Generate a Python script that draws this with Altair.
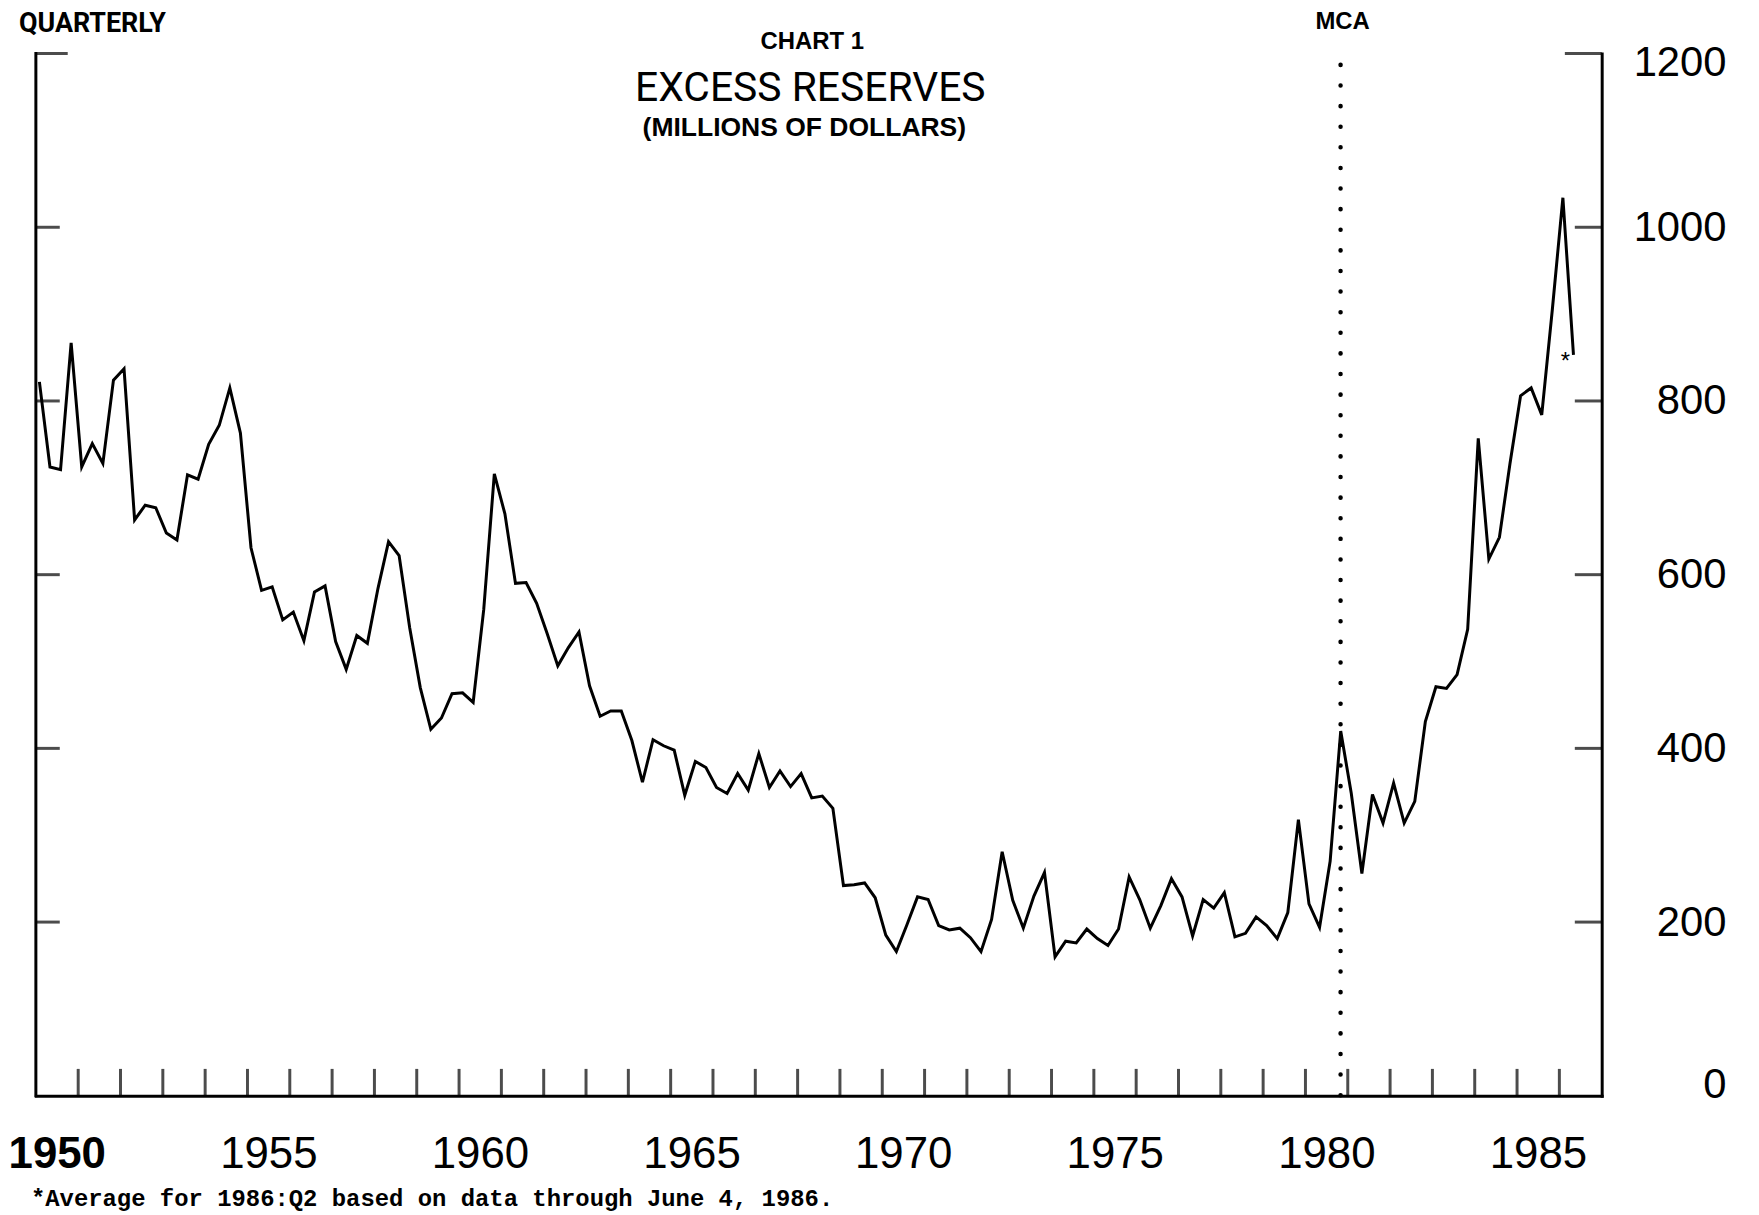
import altair as alt
import pandas as pd

# ---------------- data (quarterly, 1950:Q1 .. 1986:Q2) ----------------
first_year = 1950
excess_reserves = [
    822, 724, 721, 867, 724, 751, 728, 824, 837, 663,
    680, 677, 648, 640, 715, 710, 750, 772, 815, 763,
    631, 582, 586, 548, 557, 524, 580, 587, 523, 491,
    530, 521, 584, 638, 622, 539, 470, 422, 435, 463,
    464, 453, 560, 716, 670, 590, 591, 567, 532, 495,
    516, 534, 472, 437, 443, 443, 409, 361, 410, 403,
    398, 346, 385, 378, 355, 348, 371, 352, 394, 355,
    374, 356, 371, 343, 345, 331, 242, 243, 245, 228,
    185, 166, 197, 229, 226, 196, 191, 193, 182, 166,
    203, 281, 225, 193, 230, 257, 160, 178, 176, 192,
    181, 173, 192, 252, 226, 193, 219, 250, 229, 184,
    226, 216, 234, 183, 187, 206, 196, 181, 211, 318,
    221, 194, 270, 420, 348, 256, 347, 314, 360, 314,
    339, 431, 471, 469, 485, 537, 757, 618, 643, 728,
    806, 815, 784, 905, 1034, 853,
]
periods = [f"{first_year + i // 4}:Q{i % 4 + 1}" for i in range(len(excess_reserves))]

x_label_years = [1950, 1955, 1960, 1965, 1970, 1975, 1980, 1985]
x_tick_years = list(range(1951, 1987))
y_label_values = [0, 200, 400, 600, 800, 1000, 1200]
y_tick_values = [200, 400, 600, 800, 1000]
y_top = 1200
x_domain = [1950, 1987]
point_offset = 1 / 12          # each quarter is plotted one month into the quarter
mca_date = 1980.83
mca_top = 1187

title_small = "CHART 1"
title_main = "EXCESS RESERVES"
title_units = "(MILLIONS OF DOLLARS)"
freq_label = "QUARTERLY"
mca_label = "MCA"
footnote = "*Average for 1986:Q2 based on data through June 4, 1986."

# ---------------- frames ----------------
t_vals = [int(p.split(":")[0]) + (int(p.split("Q")[1]) - 1) / 4 + point_offset for p in periods]
df = pd.DataFrame({"period": periods, "t": t_vals, "value": excess_reserves})
last_df = df.tail(1)
yt_df = pd.DataFrame({"v": y_tick_values})
ytop_df = pd.DataFrame({"v": [y_top]})
xt_df = pd.DataFrame({"yr": x_tick_years})
one = alt.Data(values=[{}])

W, H = 1573, 1047
xs = alt.Scale(domain=x_domain, nice=False, zero=False)
ys = alt.Scale(domain=[0, y_top], nice=False, zero=False)
SANS = "Liberation Sans"

x_axis = alt.Axis(
    orient="bottom", values=x_label_years, format="d", ticks=False, tickSize=0,
    domain=True, domainColor="black", domainWidth=3, domainCap="square",
    labelOffset=21, labelPadding=37, labelFontSize=44, labelFont=SANS,
    labelColor="black", labelFlush=False, labelOverlap=False,
    labelFontWeight={"condition": {"test": "datum.value == 1950", "value": "bold"}, "value": "normal"},
    grid=False, title=None,
)
y_axis = alt.Axis(
    orient="right", values=y_label_values, format="d", ticks=False, tickSize=0,
    domain=True, domainColor="black", domainWidth=3, domainCap="square",
    labelAlign="right", labelPadding=125,
    labelFontSize=42, labelFont=SANS, labelColor="black",
    labelFlush=True, labelFlushOffset=11, labelOverlap=False,
    grid=False, title=None,
)

line = alt.Chart(df).mark_line(color="black", strokeWidth=3).encode(
    x=alt.X("t:Q", scale=xs, axis=x_axis),
    y=alt.Y("value:Q", scale=ys, axis=y_axis),
    order="t:Q",
)

left_axis = alt.Chart(one).mark_rule(color="black", strokeWidth=3, strokeCap="square").encode(
    x=alt.XDatum(x_domain[0], scale=xs, axis=x_axis),
    y=alt.YDatum(0, scale=ys, axis=y_axis),
    y2=alt.Y2Datum(y_top),
)

left_ticks = alt.Chart(yt_df).mark_tick(
    orient="horizontal", size=24, thickness=3, color="black", xOffset=12
).encode(x=alt.XDatum(x_domain[0], scale=xs, axis=x_axis), y=alt.Y("v:Q", scale=ys, axis=y_axis))
left_top = alt.Chart(ytop_df).mark_tick(
    orient="horizontal", size=32, thickness=3, color="black", xOffset=16
).encode(x=alt.XDatum(x_domain[0], scale=xs, axis=x_axis), y=alt.Y("v:Q", scale=ys, axis=y_axis))
right_ticks = alt.Chart(yt_df).mark_tick(
    orient="horizontal", size=27, thickness=3, color="black", xOffset=-13.5
).encode(x=alt.XDatum(x_domain[1], scale=xs, axis=x_axis), y=alt.Y("v:Q", scale=ys, axis=y_axis))
right_top = alt.Chart(ytop_df).mark_tick(
    orient="horizontal", size=37, thickness=3, color="black", xOffset=-18.5
).encode(x=alt.XDatum(x_domain[1], scale=xs, axis=x_axis), y=alt.Y("v:Q", scale=ys, axis=y_axis))
x_ticks = alt.Chart(xt_df).mark_tick(
    orient="vertical", size=27, thickness=3, color="black", yOffset=-13.5
).encode(x=alt.X("yr:Q", scale=xs, axis=x_axis), y=alt.YDatum(0, scale=ys, axis=y_axis))

mca = alt.Chart(one).mark_rule(
    color="black", strokeWidth=4.5, strokeDash=[0.1, 20.6], strokeCap="round"
).encode(
    x=alt.XDatum(mca_date, scale=xs, axis=x_axis),
    y=alt.YDatum(mca_top, scale=ys, axis=y_axis),
    y2=alt.Y2Datum(0),
)
mca_text = alt.Chart(one).mark_text(
    text=mca_label, font=SANS, fontWeight="bold", fontSize=24, color="black",
    baseline="middle", align="center", dx=2,
).encode(x=alt.XDatum(mca_date, scale=xs, axis=x_axis), y=alt.value(-32))

star = alt.Chart(last_df).mark_text(
    text="*", font=SANS, fontSize=24, color="black", dx=-8, dy=7, baseline="middle"
).encode(x=alt.X("t:Q", scale=xs, axis=x_axis), y=alt.Y("value:Q", scale=ys, axis=y_axis))

def label(txt, x, y, font, size, weight="normal", align="center"):
    return alt.Chart(one).mark_text(
        text=txt, font=font, fontSize=size, fontWeight=weight, color="black",
        align=align, baseline="middle",
    ).encode(x=alt.value(x), y=alt.value(y))

t1 = label(title_small, 780, -12, SANS, 24, "bold")
t2 = label(title_main, 778, 36, "Roboto", 41)
t3 = label(title_units, 772, 75, SANS, 26.6, "bold")
t4 = label(freq_label, -17, -30, "Roboto", 27, "bold", "left")
t5 = label(footnote, -5, 1151, "Liberation Mono", 24, "bold", "left")

chart = alt.layer(
    line, left_axis, left_ticks, left_top, right_ticks, right_top, x_ticks,
    mca, mca_text, star, t1, t2, t3, t4, t5,
).properties(
    width=W, height=H,
    autosize=alt.AutoSizeParams(type="none"),
    padding={"left": 28, "top": 43, "right": 150, "bottom": 117},
    background="white",
).configure_view(stroke=None)

chart.save("out.html", embed_options={"renderer": "svg", "actions": False})
